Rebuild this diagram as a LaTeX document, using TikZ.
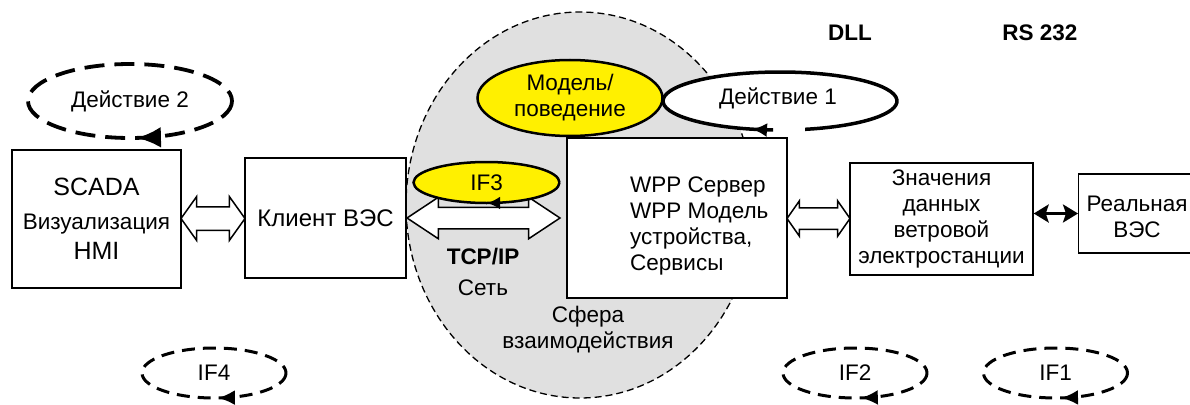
\documentclass[tikz,border=0pt]{standalone}
\usepackage{fontspec}
\setmainfont{Liberation Sans}
\usetikzlibrary{shapes.geometric,shapes.arrows,arrows.meta,decorations.markings,calc}
\definecolor{sphgray}{RGB}{224,224,224}
\definecolor{ylw}{RGB}{255,240,0}
\newcommand\myfs{\fontsize{22.5}{26}\selectfont}
\tikzset{
  box/.style={draw, line width=1.4pt, fill=white, inner sep=0pt},
  harrow/.style={double arrow, draw, line width=1.5pt, fill=white, inner sep=0pt, minimum width=0pt},
  lbl/.style={inner sep=0pt, align=center},
  boldlbl/.style={inner sep=0pt, align=center, font=\myfs\bfseries},
  bigdash/.style={line width=3.8pt, dash pattern=on 20pt off 10pt},
  ifdash/.style={line width=3pt, dash pattern=on 13pt off 8pt},
  tipmark/.style 2 args={postaction={decorate}, decoration={markings, mark=at position #1 with {\arrow{#2}}}},
}
\begin{document}
\begin{tikzpicture}[x=1pt,y=-1pt,font=\myfs]
\useasboundingbox (0,0) rectangle (1190,404);
\clip (0,0) rectangle (1190,404);

% sphere of interaction
\node[ellipse, draw, fill=sphgray, line width=1.3pt, dash pattern=on 7pt off 4pt,
      minimum width=348pt, minimum height=386pt, inner sep=0pt] (sphere) at (580,205) {};

% Action 1 loop
\node[ellipse, fill=white, minimum width=234pt, minimum height=58pt, inner sep=0pt] (act1fill) at (780,101) {};
\node[lbl] (act1) at (778,98) {Действие 1};
\draw[line width=3.5pt, tipmark={0.045}{Latex[length=15pt,width=14pt]}]
  (act1fill.center) ++(93.4:117 and 29) arc[start angle=93.4, end angle=437.6, x radius=117, y radius=29];

% Model / behaviour
\node[ellipse, draw, line width=2.5pt, fill=ylw, minimum width=185pt, minimum height=76pt,
      inner sep=0pt, align=center] (model) at (570,98) {Модель/\\поведение};

% boxes
\node[box, minimum width=169pt, minimum height=138pt, align=center] (scada) at (96.5,219)
  {{\fontsize{25}{26}\selectfont SCADA}\\[8pt] Визуализация\\[4pt]{\fontsize{25}{26}\selectfont HMI}};
\node[box, minimum width=161pt, minimum height=120pt, font=\fontsize{24}{26}\selectfont] (client) at (325.5,218) {Клиент ВЭС};
\node[box, minimum width=220pt, minimum height=160pt] (wpp) at (677,218) {};
\node[lbl, anchor=west, align=left] (wpptxt) at (630,226) {WPP Сервер\\WPP Модель\\устройства,\\Сервисы};
\node[box, minimum width=183pt, minimum height=112pt, align=center] (znach) at (941.5,219)
  {Значения\\данных\\ветровой\\электростанции};
\node[box, anchor=west, minimum width=140pt, minimum height=79pt] (real) at (1078,213.5) {};
\node[lbl] (realtxt) at (1137,217) {Реальная\\ВЭС};

% hollow double arrows
\node[harrow, minimum height=64pt, double arrow head extend=10pt, double arrow tip angle=109, inner ysep=11pt]
  (h1) at ($(scada.east)!0.5!(client.west)$) {};
\node[harrow, minimum height=153pt, double arrow head extend=10pt, double arrow tip angle=67, inner ysep=10pt]
  (h2) at ($(client.east)!0.5!(wpp.west)+(-3,0)$) {};
\node[harrow, minimum height=63pt, double arrow head extend=7pt, double arrow tip angle=110, inner ysep=10pt]
  (h3) at ($(wpp.east)!0.5!(znach.west)$) {};

% IF3
\node[ellipse, fill=ylw, minimum width=146pt, minimum height=41pt, inner sep=0pt] (if3) at (486.5,182.5) {IF3};
\draw[line width=2.5pt, tipmark={0.248}{Latex[length=13pt,width=13pt]}]
  (if3.center) ++(0:73 and 20.5) arc[start angle=0, end angle=360, x radius=73, y radius=20.5];

% solid double arrow
\draw[line width=2.8pt, {Stealth[length=15pt,width=18pt,inset=3pt]}-{Stealth[length=15pt,width=18pt,inset=3pt]}]
  (znach.east |- real.west) -- (real.west);

% labels
\node[boldlbl] (tcp) at (483,257) {TCP/IP};
\node[lbl] (net) at (483,288) {Сеть};
\node[lbl] (sph) at (588,330) {Сфера\\взаимодействия};
\node[boldlbl] (dll) at (850,33) {DLL};
\node[boldlbl] (rs) at (1040,33) {RS 232};

% Action 2 loop
\node[lbl] (act2) at (130,101) {Действие 2};
\draw[bigdash, tipmark={0.235}{Latex[length=24pt,width=21pt]}]
  (act2.center) ++(0:102 and 37) arc[start angle=0, end angle=360, x radius=102, y radius=37];

% IF loops
\node[lbl] (if4) at (214,373) {IF4};
\draw[ifdash, tipmark={0.238}{Latex[length=17pt,width=15pt]}]
  (if4.center) ++(0:72 and 25) arc[start angle=0, end angle=360, x radius=72, y radius=25];
\node[lbl] (if2) at (855,373) {IF2};
\draw[ifdash, tipmark={0.232}{Latex[length=17pt,width=15pt]}]
  (if2.center) ++(0:72 and 25) arc[start angle=0, end angle=360, x radius=72, y radius=25];
\node[lbl] (if1) at (1055.5,373) {IF1};
\draw[ifdash, tipmark={0.233}{Latex[length=17pt,width=15pt]}]
  (if1.center) ++(0:72 and 25) arc[start angle=0, end angle=360, x radius=72, y radius=25];
\end{tikzpicture}
\end{document}
